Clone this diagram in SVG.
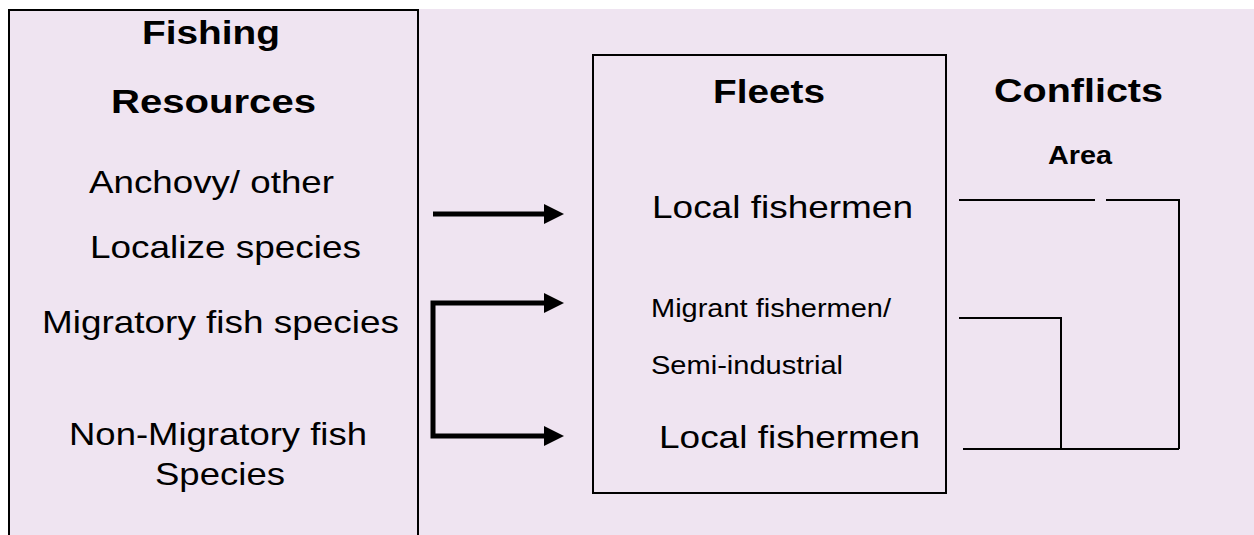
<svg xmlns="http://www.w3.org/2000/svg" width="1254" height="535" viewBox="0 0 1254 535">
  <defs>
    <style>
      text { font-family: "Liberation Sans", Arial, sans-serif; fill: #000; }
      .title { font-weight: bold; font-size: 33px; }
      .item { font-size: 32px; }
      .small { font-size: 25px; }
      .sub { font-weight: bold; font-size: 25px; }
      .box { fill: none; stroke: #000; stroke-width: 2; }
      .flow { fill: none; stroke: #000; stroke-width: 5; stroke-linejoin: miter; }
      .link { fill: none; stroke: #000; stroke-width: 2; }
    </style>
    <marker id="head" markerUnits="userSpaceOnUse" markerWidth="20" markerHeight="20"
            refX="3" refY="10" orient="auto-start-reverse">
      <path d="M0,0 L20,10 L0,20 Z" fill="#000"/>
    </marker>
  </defs>

  <!-- page background -->
  <rect x="0" y="0" width="1254" height="535" fill="#ffffff"/>
  <rect x="8" y="9" width="1246" height="526" fill="#efe4f1"/>

  <!-- resources panel -->
  <g id="resources">
    <rect class="box" x="9" y="10" width="409" height="540"/>
    <text class="title" x="142" y="44" textLength="138" lengthAdjust="spacingAndGlyphs">Fishing</text>
    <text class="title" x="111" y="113" textLength="205" lengthAdjust="spacingAndGlyphs">Resources</text>
    <text class="item" x="89" y="193" textLength="245" lengthAdjust="spacingAndGlyphs">Anchovy/ other</text>
    <text class="item" x="90" y="258" textLength="271" lengthAdjust="spacingAndGlyphs">Localize species</text>
    <text class="item" x="42" y="333" textLength="357" lengthAdjust="spacingAndGlyphs">Migratory fish species</text>
    <text class="item" x="69" y="445" textLength="298" lengthAdjust="spacingAndGlyphs">Non-Migratory fish</text>
    <text class="item" x="155" y="485" textLength="130" lengthAdjust="spacingAndGlyphs">Species</text>
  </g>

  <!-- fleets box -->
  <g id="fleets">
    <rect class="box" x="593" y="55" width="353" height="438"/>
    <text class="title" x="713" y="103" textLength="112" lengthAdjust="spacingAndGlyphs">Fleets</text>
    <text class="item" x="652" y="218" textLength="261" lengthAdjust="spacingAndGlyphs">Local fishermen</text>
    <text class="small" x="651" y="317" textLength="240" lengthAdjust="spacingAndGlyphs">Migrant fishermen/</text>
    <text class="small" x="651" y="374" textLength="192" lengthAdjust="spacingAndGlyphs">Semi-industrial</text>
    <text class="item" x="659" y="448" textLength="261" lengthAdjust="spacingAndGlyphs">Local fishermen</text>
  </g>

  <!-- conflicts heading -->
  <g id="conflicts">
    <text class="title" x="994" y="102" textLength="169" lengthAdjust="spacingAndGlyphs">Conflicts</text>
    <text class="sub" x="1048" y="164" textLength="64" lengthAdjust="spacingAndGlyphs">Area</text>
  </g>

  <!-- connectors -->
  <g id="connectors">
    <path class="flow" d="M433,214 H547" marker-end="url(#head)"/>
    <path class="flow" d="M547,303 H433 V436 H547" marker-start="url(#head)" marker-end="url(#head)"/>
    <path class="link" d="M959,200 H1095"/>
    <path class="link" d="M1106,200 H1179 V449"/>
    <path class="link" d="M959,318 H1061 V449"/>
    <path class="link" d="M963,449 H1179"/>
  </g>
</svg>
